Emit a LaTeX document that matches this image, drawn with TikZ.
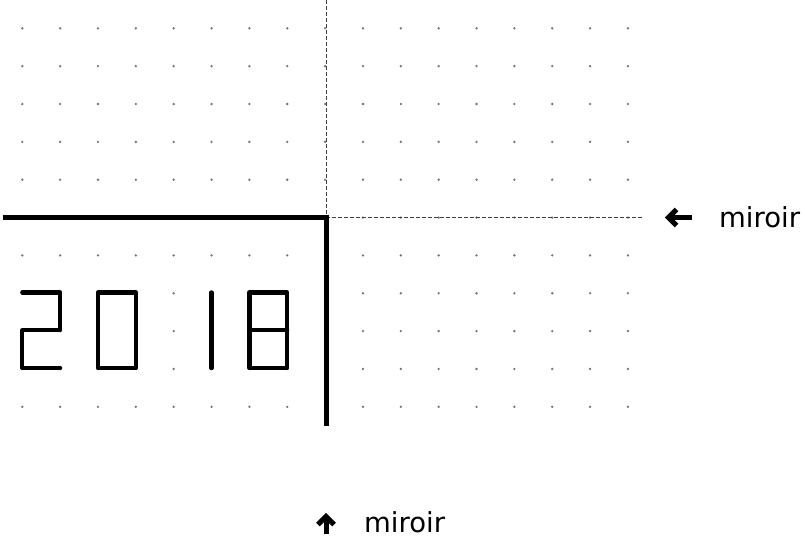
\documentclass[tikz,border=0pt]{standalone}
\usepackage{fontspec}
\setmainfont{DejaVu Sans}
\usetikzlibrary{calc}
\begin{document}
\begin{tikzpicture}[x=1pt,y=-1pt,
  griddot/.style={fill=black!55,draw=none},
  mirrorline/.style={line width=5pt},
  guide/.style={line width=0.7pt,black!75,dash pattern=on 4pt off 2pt},
  digit/.style={line width=4.2pt,line cap=round,line join=round},
  icon/.style={line width=5pt,line join=miter},
  lbl/.style={font=\fontsize{27.5}{32}\selectfont,anchor=base west,inner sep=0pt}]
\useasboundingbox (0,0) rectangle (805,539);
% dot grid
\foreach \i in {0,...,16}{
  \foreach \j in {0,...,10}{
    \fill[griddot] (22.3+37.85*\i,28.3+37.85*\j) circle (1.3pt);
  }
}
% guide lines (mirror axes)
\coordinate (corner) at (326,217.5);
\coordinate (topend) at (326,0);
\coordinate (rightend) at (642,217.5);
\coordinate (leftend) at (2.5,217.5);
\coordinate (bottomend) at (326,426);
\draw[guide] (topend) -- (corner);
\draw[guide] (corner) -- (rightend);
% thick mirrors
\draw[mirrorline] (leftend) -- (corner) -- (bottomend);
% digits 2018
\draw[digit] (22.3,292.4) -- (60.2,292.4) -- (60.2,330.3) -- (22.3,330.3) -- (22.3,368.1) -- (60.2,368.1);
\draw[digit] (98,292.4) rectangle (135.9,368.1);
\draw[digit] (211.5,292.4) -- (211.5,368.1);
\draw[digit] (249.4,292.4) rectangle (287.2,368.1);
\draw[digit] (249.4,330.3) -- (287.2,330.3);
% labels
\coordinate (la) at (668.5,217.5);
\draw[icon] (la) -- ++(23,0);
\draw[icon] ($(la)+(8,-8)$) -- (la) -- ($(la)+(8,8)$);
\node[lbl] (lright) at (719,227) {miroir};
\coordinate (ua) at (326,516.5);
\draw[icon] (ua) -- ++(0,17.5);
\draw[icon] ($(ua)+(-8,8)$) -- (ua) -- ($(ua)+(8,8)$);
\node[lbl] (lbottom) at (364,532) {miroir};
\end{tikzpicture}
\end{document}
